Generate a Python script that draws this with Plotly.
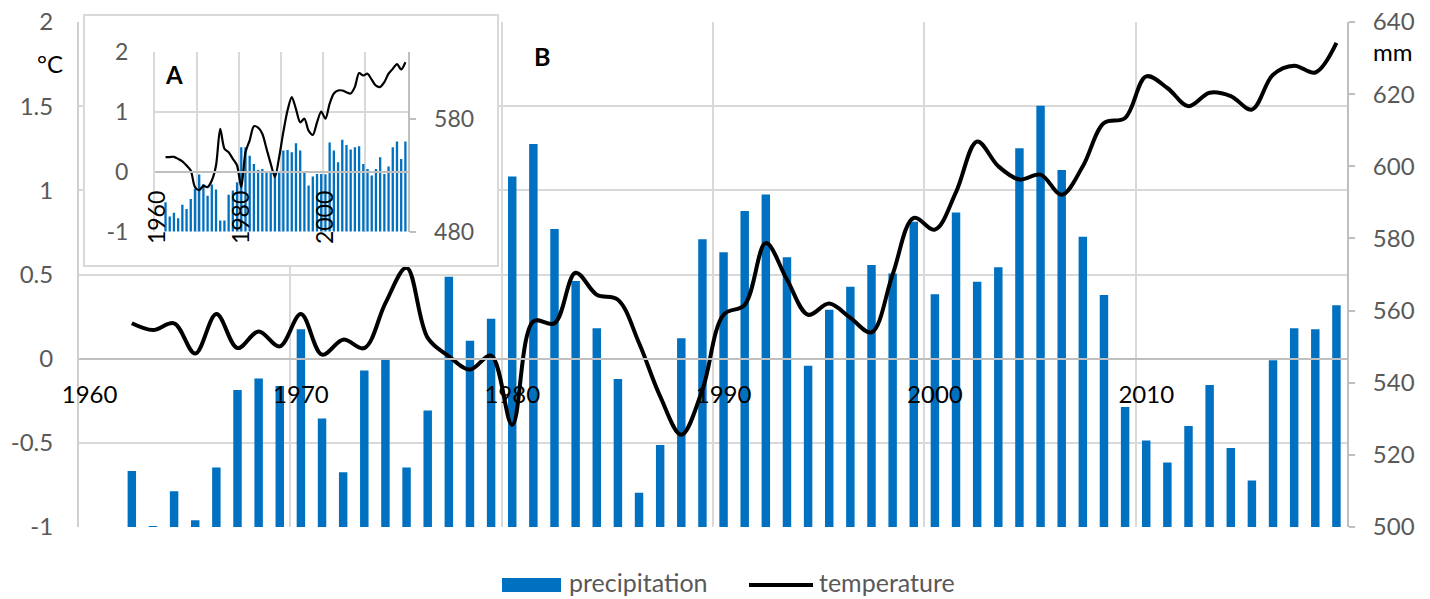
import plotly.graph_objects as go

# ---------------- data ----------------
years = list(range(1962, 2020))

# main panel (B)
precipitation = [
    515.5, 500.3, 509.9, 501.9, 516.5, 538.0, 541.2, 539.1, 554.8, 530.1,
    515.2, 543.4, 546.3, 516.5, 532.3, 569.4, 551.6, 557.7, 597.2, 606.2,
    582.6, 568.2, 555.1, 541.0, 509.5, 522.7, 552.3, 579.8, 576.2, 587.6,
    592.2, 574.8, 544.7, 560.2, 566.6, 572.6, 570.3, 584.6, 564.5, 587.2,
    568.0, 572.0, 605.0, 616.8, 599.0, 580.5, 564.3, 533.3, 524.0, 517.9,
    528.0, 539.4, 521.9, 512.9, 546.2, 555.1, 554.8, 561.5,
]
temperature = [
    0.21, 0.17, 0.21, 0.03, 0.265, 0.063, 0.162, 0.073, 0.265, 0.024,
    0.113, 0.063, 0.33, 0.54, 0.123, 0.014, -0.065, 0.018, -0.392, 0.222,
    0.21, 0.51, 0.38, 0.35, 0.093, -0.224, -0.452, -0.184, 0.261, 0.32,
    0.687, 0.47, 0.261, 0.327, 0.242, 0.156, 0.50, 0.836, 0.767, 0.99,
    1.29, 1.143, 1.064, 1.093, 0.974, 1.143, 1.40, 1.43, 1.677, 1.608,
    1.50, 1.58, 1.56, 1.48, 1.687, 1.74, 1.70, 1.876,
]

# inset panel (A)
inset_precipitation = [
    506.0, 493.3, 496.6, 491.8, 503.7, 500.1, 509.0, 517.9, 530.6, 522.3,
    511.7, 521.7, 517.3, 489.8, 489.8, 512.6, 516.4, 523.8, 554.8, 554.8,
    547.4, 540.1, 534.7, 535.6, 532.6, 532.6, 532.6, 533.0, 551.9, 552.5,
    550.4, 558.4, 551.9, 532.1, 520.8, 528.8, 531.2, 531.2, 531.0, 559.2,
    551.9, 541.5, 561.6, 556.9, 552.8, 554.8, 555.7, 540.1, 535.6, 529.7,
    535.6, 545.9, 531.2, 537.7, 554.8, 559.9, 544.5, 559.9,
]
inset_temperature = [
    0.24, 0.24, 0.245, 0.21, 0.17, 0.10, 0.017, -0.26, -0.31, -0.24,
    -0.26, -0.15, 0.10, 0.71, 0.38, 0.32, 0.21, 0.10, -0.26, 0.32,
    0.52, 0.755, 0.73, 0.63, 0.38, 0.13, -0.09, 0.24, 0.66, 1.02,
    1.24, 1.04, 0.82, 0.88, 0.68, 0.61, 0.82, 1.00, 0.88, 1.13,
    1.30, 1.35, 1.35, 1.32, 1.30, 1.41, 1.64, 1.60, 1.63, 1.53,
    1.43, 1.41, 1.49, 1.63, 1.71, 1.79, 1.70, 1.82,
]

label_years = [1960, 1970, 1980, 1990, 2000, 2010]
inset_label_years = [1960, 1980, 2000]
temp_ticks = [-1, -0.5, 0, 0.5, 1, 1.5, 2]
temp_tick_text = ["-1", "-0.5", "0", "0.5", "1", "1.5", "2"]
precip_ticks = [500, 520, 540, 560, 580, 600, 620, 640]
inset_temp_ticks = [-1, 0, 1, 2]
inset_temp_tick_text = ["-1", "0", "1", "2"]
inset_precip_ticks = [480, 580]

# ---------------- geometry helpers ----------------
W, H = 1430, 599


def px(x):
    return x / W


def py(y):
    return 1 - y / H


BLUE = "#0070C0"
GRID = "#d9d9d9"
AXIS = "#bfbfbf"
TXT = "#595959"
FONT = "Lato, Carlito, sans-serif"

year_lo, year_hi = years[0] - 2.5, years[-1] + 0.5          # 1959.5 .. 2019.5
grid_years = [year_lo + 10 * k for k in range(7)]          # category boundaries

main_dom_y = [py(527), py(22)]
inset_dom_y = [py(231.5), py(51.5)]


def zero_position(dom, lo, hi):
    return dom[0] + (0 - lo) / (hi - lo) * (dom[1] - dom[0])


fig = go.Figure()

# main panel: bars on the mm axis first, temperature line drawn over them
fig.add_trace(go.Bar(
    x=years, y=precipitation, xaxis="x", yaxis="y",
    width=0.4, marker=dict(color=BLUE, line=dict(width=0)),
    name="precipitation", hoverinfo="x+y",
))
fig.add_trace(go.Scatter(
    x=years, y=temperature, xaxis="x", yaxis="y2", mode="lines",
    line=dict(color="black", width=4, shape="spline", smoothing=1),
    name="temperature",
))

# frame of the inset panel
fig.add_trace(go.Scatter(x=[], y=[], xaxis="x2", yaxis="y3",
                         mode="lines", showlegend=False, hoverinfo="skip"))

# inset panel
fig.add_trace(go.Bar(
    x=years, y=inset_precipitation, xaxis="x3", yaxis="y4",
    width=0.55, marker=dict(color=BLUE, line=dict(width=0)),
    name="precipitation A", hoverinfo="x+y",
))
fig.add_trace(go.Scatter(
    x=years, y=inset_temperature, xaxis="x3", yaxis="y5", mode="lines",
    line=dict(color="black", width=2.2, shape="spline", smoothing=0.8),
    name="temperature A",
))

fig.update_layout(
    width=W, height=H,
    margin=dict(l=0, r=0, t=0, b=0, pad=0, autoexpand=False),
    paper_bgcolor="white", plot_bgcolor="white",
    font=dict(family=FONT, size=24, color=TXT),
    showlegend=False,
    # ----- main panel -----
    xaxis=dict(
        domain=[px(79), px(1347)], range=[year_lo, year_hi],
        anchor="free", position=zero_position(main_dom_y, -1, 2),
        showline=True, linecolor=AXIS, linewidth=2,
        tickmode="array", tickvals=label_years,
        ticktext=[str(v) for v in label_years],
        ticks="", showgrid=False, zeroline=False, automargin=False,
        tickfont=dict(color="black", size=24), ticklabelstandoff=15,
        minor=dict(tickmode="array", tickvals=grid_years, showgrid=True,
                   gridcolor=GRID, gridwidth=2, ticks=""),
    ),
    yaxis=dict(
        domain=main_dom_y, range=[500, 640], side="right", anchor="x",
        tickmode="array", tickvals=precip_ticks,
        showgrid=False, zeroline=False, automargin=False,
        showline=True, linecolor=AXIS, linewidth=2,
        ticks="outside", ticklen=6, tickwidth=2, tickcolor=AXIS,
        ticklabelstandoff=13,
    ),
    yaxis2=dict(
        overlaying="y", side="left", anchor="x", range=[-1, 2],
        tickmode="array", tickvals=temp_ticks, ticktext=temp_tick_text,
        showgrid=True, gridcolor=GRID, gridwidth=2, zeroline=False,
        showline=True, linecolor="#d0d0d0", linewidth=2, automargin=False,
        ticks="", ticklabelstandoff=19,
    ),
    # ----- inset frame -----
    xaxis2=dict(
        domain=[px(85), px(497)], range=[0, 1], anchor="y3",
        showline=True, mirror=True, linecolor=GRID, linewidth=2,
        showticklabels=False, showgrid=False, zeroline=False, ticks="",
        automargin=False,
    ),
    yaxis3=dict(
        domain=[py(265), py(16)], range=[0, 1], anchor="x2",
        showline=True, mirror=True, linecolor=GRID, linewidth=2,
        showticklabels=False, showgrid=False, zeroline=False, ticks="",
        automargin=False,
    ),
    # ----- inset panel -----
    xaxis3=dict(
        domain=[px(155), px(407.5)], range=[year_lo, year_hi],
        anchor="free", position=zero_position(inset_dom_y, -1, 2),
        showline=True, linecolor=AXIS, linewidth=2,
        tickmode="array", tickvals=inset_label_years,
        ticktext=[str(v) for v in inset_label_years],
        tickangle=-90, ticks="", showgrid=False, zeroline=False, automargin=False,
        tickfont=dict(color="black", size=23), ticklabelstandoff=9,
        minor=dict(tickmode="array", tickvals=grid_years, showgrid=True,
                   gridcolor=GRID, gridwidth=2, ticks=""),
    ),
    yaxis4=dict(
        domain=inset_dom_y, range=[480, 640], side="right", anchor="x3",
        tickmode="array", tickvals=inset_precip_ticks,
        showgrid=False, zeroline=False, automargin=False,
        showline=True, linecolor=AXIS, linewidth=2,
        ticks="outside", ticklen=6, tickwidth=2, tickcolor=AXIS,
        tickfont=dict(size=23), ticklabelstandoff=14,
    ),
    yaxis5=dict(
        overlaying="y4", side="left", anchor="x3", range=[-1, 2],
        tickmode="array", tickvals=inset_temp_ticks, ticktext=inset_temp_tick_text,
        showgrid=True, gridcolor=GRID, gridwidth=2, zeroline=False,
        showline=True, linecolor=GRID, linewidth=2, automargin=False,
        ticks="", tickfont=dict(size=23), ticklabelstandoff=20,
    ),
)

# unit labels and panel letters
fig.add_annotation(x=px(50), y=py(63), xref="paper", yref="paper", text="°C",
                   showarrow=False, font=dict(size=24, color="black"),
                   xanchor="center", yanchor="middle")
fig.add_annotation(x=px(1392), y=py(52), xref="paper", yref="paper", text="mm",
                   showarrow=False, font=dict(size=24, color="black"),
                   xanchor="center", yanchor="middle")
fig.add_annotation(x=px(174), y=py(75), xref="paper", yref="paper", text="<b>A</b>",
                   showarrow=False, font=dict(size=24, color="black"),
                   xanchor="center", yanchor="middle")
fig.add_annotation(x=px(542), y=py(56), xref="paper", yref="paper", text="<b>B</b>",
                   showarrow=False, font=dict(size=25, color="black"),
                   xanchor="center", yanchor="middle")

# legend row
fig.add_shape(type="rect", xref="paper", yref="paper",
              x0=px(502), x1=px(561), y0=py(592), y1=py(578),
              fillcolor=BLUE, line=dict(width=0))
fig.add_shape(type="line", xref="paper", yref="paper",
              x0=px(749), x1=px(813), y0=py(585), y1=py(585),
              line=dict(color="black", width=4))
fig.add_annotation(x=px(567), y=0, xref="paper", yref="paper",
                   text="precipitation", showarrow=False,
                   font=dict(size=25, color=TXT), xanchor="left", yanchor="bottom")
fig.add_annotation(x=px(817), y=0, xref="paper", yref="paper",
                   text="temperature", showarrow=False,
                   font=dict(size=25, color=TXT), xanchor="left", yanchor="bottom")

fig.write_html("out.html")
